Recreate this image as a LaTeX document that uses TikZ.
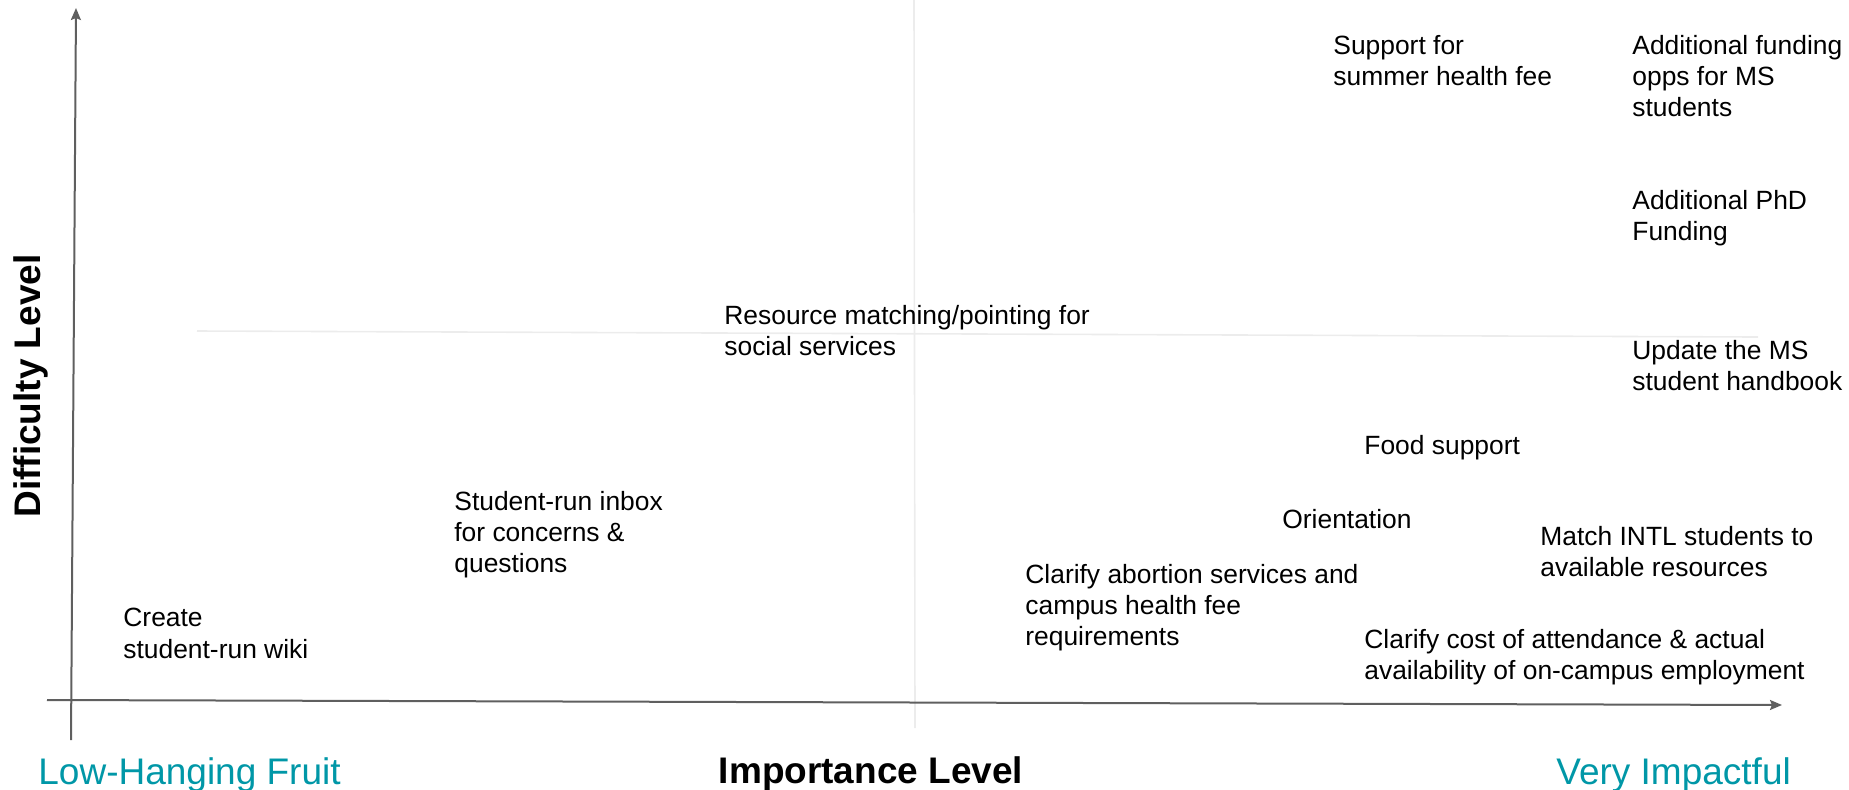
\documentclass[tikz,border=0pt]{standalone}
\usepackage{fontspec}
\setmainfont{Liberation Sans}
\usepackage{xcolor}
\usepackage{tikz}
\usetikzlibrary{arrows.meta}

\definecolor{axisgray}{HTML}{5F5F5F}
\definecolor{quadgray}{HTML}{ECECEC}
\definecolor{impteal}{HTML}{0097A7}

\begin{document}
\begin{tikzpicture}[x=0.5pt,y=-0.5pt,
                    axis line/.style={draw=axisgray,line width=1pt,-{Stealth[length=6pt,width=5pt,inset=1pt]}},
                    quad line/.style={draw=quadgray,line width=0.8pt},
                    item node/.style={anchor=north west,inner sep=0pt,align=left,font=\fontsize{13.2}{15.6}\selectfont},
                    axis label/.style={inner sep=0pt,font=\fontsize{18.5}{22}\selectfont\bfseries},
                    end label/.style={anchor=base west,inner sep=0pt,text=impteal,font=\fontsize{18.5}{22}\selectfont}]

  \useasboundingbox (0,0) rectangle (1849,789);

  % quadrant lines
  \coordinate (QT) at (914,0);
  \coordinate (QB) at (915,728);
  \coordinate (QL) at (197,331);
  \coordinate (QR) at (1758,337);
  \draw[quad line] (QT) -- (QB);
  \draw[quad line] (QL) -- (QR);

  % axes
  \coordinate (O1) at (71,740);
  \coordinate (YT) at (76,8);
  \coordinate (O2) at (47,700);
  \coordinate (XR) at (1782,705);
  \draw[axis line] (O1) -- (YT);
  \draw[axis line] (O2) -- (XR);

  % items
  \node[item node] (health) at (1333,35) {Support for\\summer health fee};
  \node[item node] (msfund) at (1632,35) {Additional funding\\opps for MS\\students};
  \node[item node] (phdfund) at (1632,190) {Additional PhD\\Funding};
  \node[item node] (resource) at (724,305) {Resource matching/pointing for\\social services};
  \node[item node] (handbook) at (1632,340) {Update the MS\\student handbook};
  \node[item node] (food) at (1364,435) {Food support};
  \node[item node] (inbox) at (454,491) {Student-run inbox\\for concerns \&\\questions};
  \node[item node] (orient) at (1282,509) {Orientation};
  \node[item node] (intl) at (1540,526) {Match INTL students to\\available resources};
  \node[item node] (abortion) at (1025,564) {Clarify abortion services and\\campus health fee\\requirements};
  \node[item node] (wiki) at (123,608) {Create\\student-run wiki};
  \node[item node] (cost) at (1364,629) {Clarify cost of attendance \& actual\\availability of on-campus employment};

  % axis labels
  \node[axis label,anchor=base,rotate=90] (ylab) at (40,386) {Difficulty Level};
  \node[axis label,anchor=base] (xlab) at (871,783) {Importance Level};
  \node[end label] (lowfruit) at (38,784) {Low-Hanging Fruit};
  \node[end label] (impact) at (1556,784) {Very Impactful};

\end{tikzpicture}
\end{document}
